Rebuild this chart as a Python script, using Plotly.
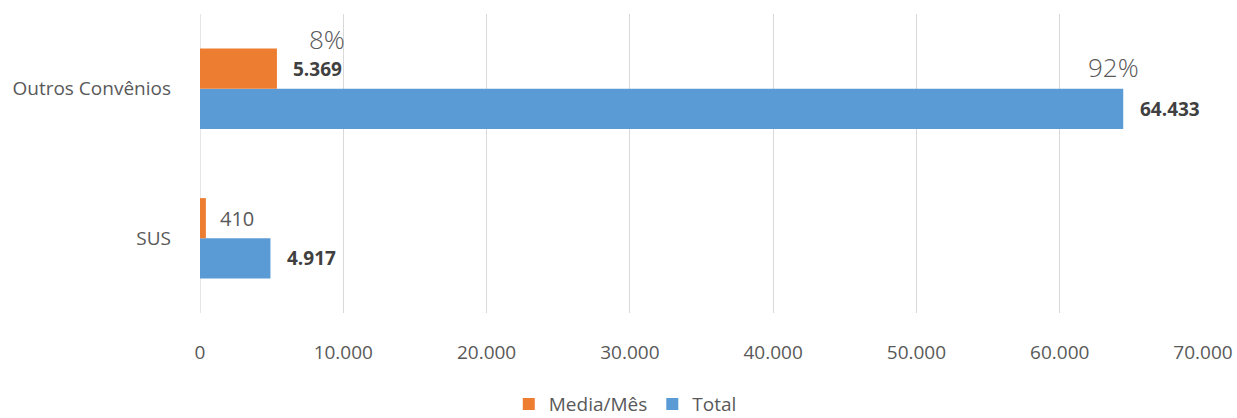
import plotly.graph_objects as go

categories = ["SUS", "Outros Convênios"]
media_mes = [410, 5369]
total = [4917, 64433]
media_labels = ["410", "5.369"]
total_labels = ["4.917", "64.433"]
pct_labels = ["8%", "92%"]
x_ticks = [0, 10000, 20000, 30000, 40000, 50000, 60000, 70000]
x_tick_text = ["0", "10.000", "20.000", "30.000", "40.000", "50.000", "60.000", "70.000"]

ORANGE = "#ED7D31"
BLUE = "#5B9BD5"
TXT = "#595959"
DARK = "#404040"
FONT = "Open Sans"

fig = go.Figure()
fig.add_trace(go.Bar(y=categories, x=total, orientation="h", name="Total",
                     marker=dict(color=BLUE, line=dict(width=0)), offsetgroup="b"))
fig.add_trace(go.Bar(y=categories, x=media_mes, orientation="h", name="Media/Mês",
                     marker=dict(color=ORANGE, line=dict(width=0)), offsetgroup="a"))

ann = []
for i, (v, t) in enumerate(zip(media_mes, media_labels)):
    bold = i == 1
    ann.append(dict(x=v, y=i + 0.134, xref="x", yref="y",
                    text=f"<b>{t}</b>" if bold else t, showarrow=False,
                    xanchor="left", xshift=14 if bold else 12,
                    font=dict(family=FONT, size=19 if bold else 20, color=DARK if bold else TXT)))
for i, (v, t) in enumerate(zip(total, total_labels)):
    ann.append(dict(x=v, y=i - 0.134, xref="x", yref="y", text=f"<b>{t}</b>",
                    showarrow=False, xanchor="left", xshift=15,
                    font=dict(family=FONT, size=19, color=DARK)))
ann.append(dict(x=media_mes[1], y=1, xref="x", yref="y", text=pct_labels[0],
                showarrow=False, xanchor="center", xshift=50, yshift=50,
                font=dict(family=FONT, size=26, color=TXT, weight=300)))
ann.append(dict(x=total[1], y=1, xref="x", yref="y", text=pct_labels[1],
                showarrow=False, xanchor="center", xshift=-10, yshift=22,
                font=dict(family=FONT, size=26, color=TXT, weight=300)))

fig.update_layout(
    width=1237, height=418,
    margin=dict(l=200, r=34, t=14, b=105, autoexpand=False),
    paper_bgcolor="white", plot_bgcolor="white",
    barmode="group", bargap=0.463, bargroupgap=0,
    font=dict(family=FONT, size=19, color=TXT),
    showlegend=True,
    legend=dict(orientation="h", x=0.424, xanchor="center", y=-0.305, yanchor="middle",
                traceorder="reversed", font=dict(family=FONT, size=19, color=TXT),
                itemwidth=30, tracegroupgap=0),
    annotations=ann,
    xaxis=dict(range=[0, 70000], tickvals=x_ticks, ticktext=x_tick_text,
               showgrid=True, gridcolor="#D9D9D9", gridwidth=1.3, automargin=False,
               zeroline=False, showline=False, ticks="",
               ticklabelstandoff=26, tickfont=dict(family=FONT, size=19, color=TXT)),
    yaxis=dict(showgrid=False, zeroline=False, showline=False, ticks="", automargin=False,
               ticklabelstandoff=28, tickfont=dict(family=FONT, size=19, color=TXT)),
)
fig.add_vline(x=0, line=dict(color="#D9D9D9", width=1.3), layer="below")

fig.write_html("out.html", config={"displayModeBar": False},
               post_script="document.body.style.margin='0';")
